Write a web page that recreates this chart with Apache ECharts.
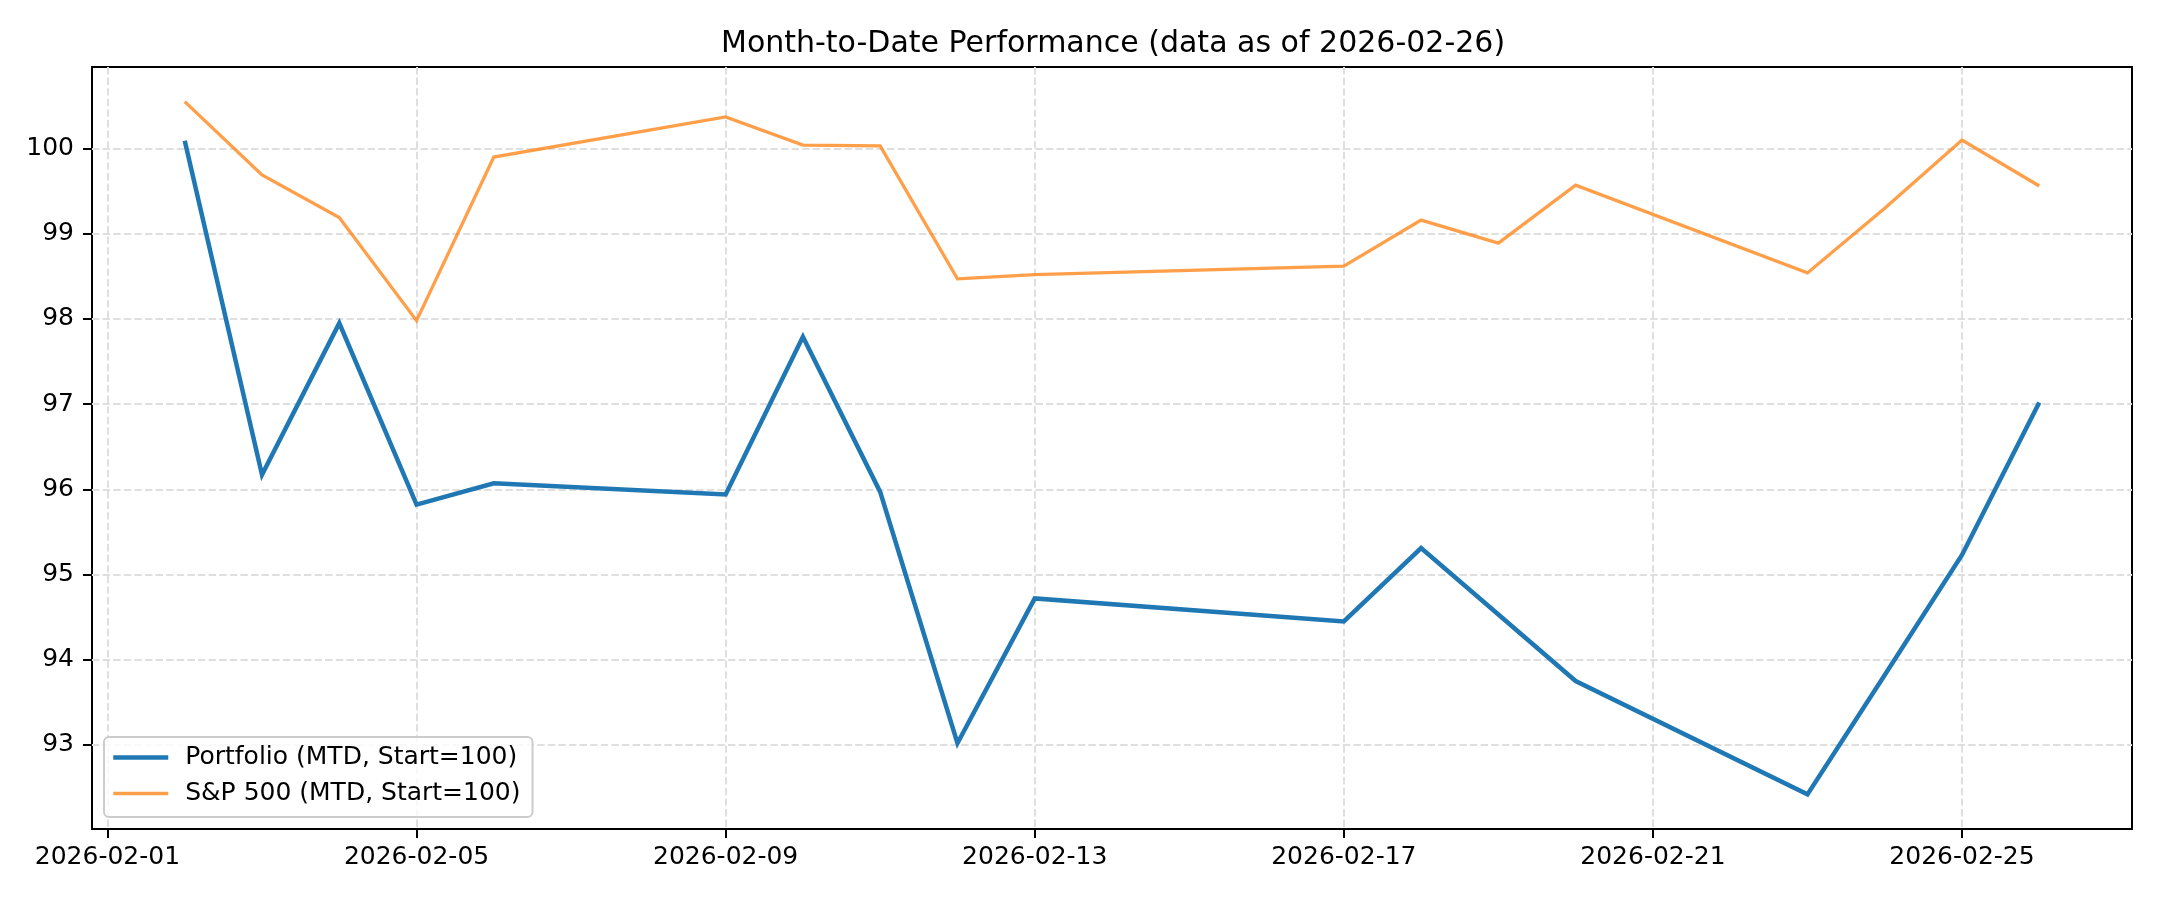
<!DOCTYPE html>
<html>
<head>
<meta charset="utf-8">
<script src="https://cdn.jsdelivr.net/npm/echarts@6/dist/echarts.min.js"></script>
<style>
html,body{margin:0;padding:0;background:#fff;}
#chart{width:2160px;height:900px;}
</style>
</head>
<body>
<div id="chart"></div>
<script>
const dates = ['2026-02-02','2026-02-03','2026-02-04','2026-02-05','2026-02-06','2026-02-09','2026-02-10','2026-02-11','2026-02-12','2026-02-13','2026-02-17','2026-02-18','2026-02-19','2026-02-20','2026-02-23','2026-02-24','2026-02-25','2026-02-26'];
const portfolio = [100.09, 96.17, 97.95, 95.82, 96.07, 95.94, 97.79, 95.97, 93.02, 94.72, 94.45, 95.31, 94.53, 93.75, 92.42, 93.82, 95.23, 97.02];
const sp500 = [100.55, 99.69, 99.19, 97.98, 99.90, 100.37, 100.04, 100.03, 98.47, 98.52, 98.62, 99.16, 98.89, 99.57, 98.54, 99.30, 100.10, 99.56];
const xTickLabels = ['2026-02-01','2026-02-05','2026-02-09','2026-02-13','2026-02-17','2026-02-21','2026-02-25'];
const yTicks = [93, 94, 95, 96, 97, 98, 99, 100];
const seriesNames = ['Portfolio (MTD, Start=100)', 'S&P 500 (MTD, Start=100)'];
const titleText = 'Month-to-Date Performance (data as of 2026-02-26)';

const DAY = 86400000;
const ts = s => new Date(s + 'T00:00:00Z').getTime();
const xs = dates.map(ts);
const xSpan = xs[xs.length - 1] - xs[0];
const xMin = xs[0] - 0.05 * xSpan;
const xMax = xs[xs.length - 1] + 0.05 * xSpan;
const allY = portfolio.concat(sp500);
const yLo = Math.min.apply(null, allY), yHi = Math.max.apply(null, allY);
const yMin = yLo - 0.05 * (yHi - yLo);
const yMax = yHi + 0.05 * (yHi - yLo);

const FONT = 'DejaVu Sans';
const BLUE = '#1f77b4';
const ORANGE = 'rgba(255,127,14,0.75)';
const gridLine = {show: true, lineStyle: {color: '#dfdfdf', width: 2, type: [7.4, 3.2]}};

const chart = echarts.init(document.getElementById('chart'), null, {renderer: 'canvas'});
chart.setOption({
  animation: false,
  backgroundColor: '#ffffff',
  textStyle: {fontFamily: FONT},
  title: {
    text: titleText, left: 716, top: 24,
    textStyle: {fontFamily: FONT, fontSize: 30, fontWeight: 'normal', color: '#000'}
  },
  grid: {left: 92, right: 28, top: 67, bottom: 71, show: true, borderColor: '#000', borderWidth: 2, containLabel: false},
  legend: {
    orient: 'vertical', left: 104, top: 737,
    data: [
      {name: seriesNames[0], lineStyle: {width: 4.5, color: BLUE}},
      {name: seriesNames[1], lineStyle: {width: 3.3, color: ORANGE}}
    ],
    itemWidth: 55, itemHeight: 25, itemGap: 11,
    itemStyle: {opacity: 0},
    padding: [8, 12, 11, 7],
    backgroundColor: 'rgba(255,255,255,0.8)',
    borderColor: '#cccccc', borderWidth: 2, borderRadius: 5,
    textStyle: {fontFamily: FONT, fontSize: 25, color: '#000', padding: [0, 0, 0, 12], lineHeight: 25}
  },
  xAxis: {
    type: 'value', min: xMin, max: xMax,
    axisLine: {show: false},
    axisTick: {show: true, inside: false, length: 9, lineStyle: {color: '#000', width: 2}, customValues: xTickLabels.map(ts)},
    axisLabel: {show: true, margin: 16, fontFamily: FONT, fontSize: 25, color: '#000', customValues: xTickLabels.map(ts),
      formatter: v => new Date(v).toISOString().slice(0, 10)},
    splitLine: gridLine
  },
  yAxis: {
    type: 'value', min: yMin, max: yMax,
    axisLine: {show: false},
    axisTick: {show: true, inside: false, length: 9, lineStyle: {color: '#000', width: 2}, customValues: yTicks},
    axisLabel: {show: true, margin: 18, fontFamily: FONT, fontSize: 25, color: '#000', customValues: yTicks,
      formatter: v => String(v)},
    splitLine: gridLine
  },
  series: [
    {
      name: seriesNames[0], type: 'line', symbol: 'none', z: 3,
      data: xs.map((x, i) => [x, portfolio[i]]),
      lineStyle: {color: BLUE, width: 4.5, join: 'miter'},
      itemStyle: {color: BLUE}
    },
    {
      name: seriesNames[1], type: 'line', symbol: 'none', z: 4,
      data: xs.map((x, i) => [x, sp500[i]]),
      lineStyle: {color: ORANGE, width: 3.3, join: 'miter'},
      itemStyle: {color: ORANGE}
    }
  ]
});
</script>
</body>
</html>
